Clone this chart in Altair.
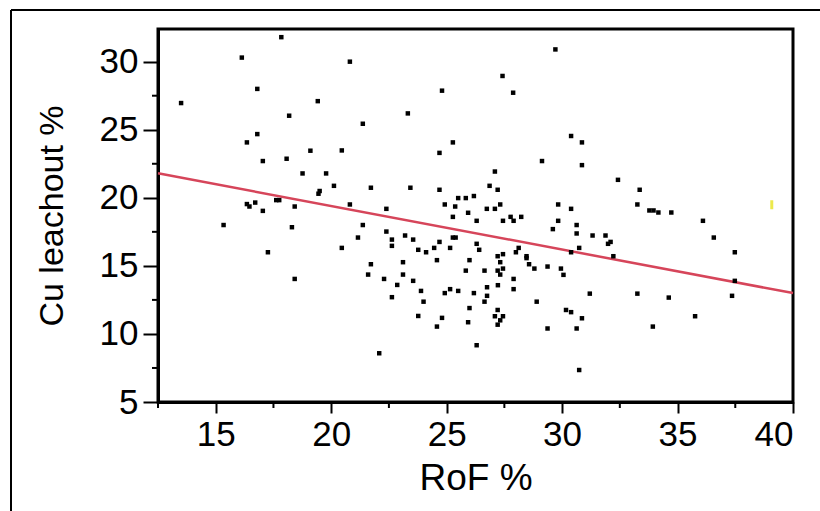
import altair as alt
import pandas as pd

# RoF % (x) and Cu leachout % (y)
rof = [17.84, 16.13, 13.5, 16.8, 19.42, 18.18, 16.8, 16.35, 17.04, 18.07,
       19.1, 18.76, 19.45, 19.5, 16.35, 16.46, 16.71, 17.04, 17.62, 17.75,
       18.42, 15.34, 18.3, 17.26, 18.42, 20.81, 24.8, 23.32, 21.37, 20.46,
       24.69, 25.27, 19.78, 20.12, 21.72, 23.43, 24.69, 20.81, 22.39, 24.92,
       25.37, 25.5, 25.83, 25.27, 25.93, 21.37, 21.16, 20.46, 22.39, 22.63,
       22.63, 23.2, 23.55, 23.77, 24.11, 24.46, 24.69, 25.15, 25.27, 25.39,
       24.58, 25.99, 25.83, 23.11, 21.72, 21.6, 23.11, 22.29, 22.86, 23.55,
       23.89, 22.63, 24.0, 24.92, 25.15, 25.5, 25.99, 25.93, 23.77, 24.8,
       24.58, 22.08, 29.71, 27.42, 27.88, 30.39, 30.86, 29.13, 30.86, 32.42,
       27.09, 26.86, 27.21, 26.18, 26.74, 27.09, 27.32, 29.83, 30.39, 27.77,
       28.23, 27.44, 27.9, 26.3, 29.83, 29.6, 30.63, 30.63, 31.32, 31.88,
       31.99, 32.1, 32.22, 26.3, 26.41, 26.64, 27.21, 27.44, 27.32, 27.21,
       27.44, 27.32, 28.0, 28.12, 28.46, 28.46, 28.57, 28.8, 29.37, 29.95,
       30.06, 30.39, 30.74, 27.9, 27.9, 27.22, 26.75, 26.18, 26.75, 26.64,
       26.3, 27.21, 27.09, 27.44, 27.32, 27.21, 28.9, 29.37, 30.17, 30.39,
       30.86, 30.63, 31.2, 30.74, 33.36, 33.26, 33.78, 33.96, 34.17, 34.73,
       36.1, 36.57, 37.48, 37.48, 37.36, 33.26, 34.62, 35.76, 33.93]
cu = [31.8, 30.3, 26.96, 28.0, 27.1, 26.03, 24.68, 24.07, 22.7, 22.87,
      23.46, 21.79, 20.3, 20.5, 19.54, 19.36, 19.65, 19.04, 19.83, 19.83,
      19.36, 18.0, 17.84, 16.0, 14.04, 30.0, 27.87, 26.2, 25.44, 23.48,
      23.3, 24.07, 21.79, 20.88, 20.74, 20.74, 20.59, 19.51, 19.19, 19.51,
      19.36, 19.98, 19.98, 18.6, 18.9, 18.0, 17.08, 16.32, 17.52, 16.93,
      16.47, 17.23, 16.93, 16.18, 16.0, 16.32, 16.76, 16.32, 17.08, 17.08,
      15.42, 15.42, 14.65, 15.27, 15.12, 14.36, 14.36, 14.04, 13.6, 13.9,
      13.16, 12.7, 12.37, 13.0, 13.29, 13.16, 11.9, 10.86, 11.32, 11.18,
      10.54, 8.58, 30.9, 28.95, 27.72, 24.54, 24.07, 22.7, 22.4, 21.32,
      21.93, 20.88, 20.59, 20.13, 19.19, 19.19, 19.51, 19.51, 19.19, 18.6,
      18.6, 18.31, 18.31, 18.31, 18.31, 17.7, 18.0, 17.38, 17.23, 17.23,
      16.62, 16.76, 15.71, 16.62, 16.18, 14.65, 15.71, 15.86, 15.27, 14.65,
      14.8, 14.36, 16.0, 16.32, 15.71, 15.57, 15.12, 14.8, 14.95, 14.8,
      14.34, 16.0, 16.32, 14.04, 13.29, 13.58, 13.43, 13.0, 12.8, 12.37,
      9.17, 11.76, 11.3, 11.3, 11.0, 10.68, 12.37, 10.4, 11.76, 11.6,
      11.15, 10.4, 12.96, 7.35, 20.59, 19.51, 19.07, 19.07, 18.92, 18.92,
      18.31, 17.08, 16.0, 13.9, 12.8, 12.96, 12.67, 11.3, 10.54]

# fitted line end points
fit_x = [12.5, 40.0]
fit_y = [21.8, 13.0]

# single yellow marker near the right edge
marker_x = [39.08]
marker_y = [19.49]

x_major = [15, 20, 25, 30, 35, 40]
x_minor = [12.5, 17.5, 22.5, 27.5, 32.5, 37.5]
y_major = [5, 10, 15, 20, 25, 30]
y_minor = [7.5, 12.5, 17.5, 22.5, 27.5]

X_DOMAIN = [12.5, 40]
Y_DOMAIN = [5, 32.4]

FONT = "Liberation Sans"

pts = pd.DataFrame({"RoF": rof, "Cu": cu})
fit = pd.DataFrame({"RoF": fit_x, "Cu": fit_y})
mk = pd.DataFrame({"RoF": marker_x, "Cu": marker_y})
xm = pd.DataFrame({"v": x_minor})
ym = pd.DataFrame({"v": y_minor})

xs = alt.Scale(domain=X_DOMAIN, nice=False, zero=False)
ys = alt.Scale(domain=Y_DOMAIN, nice=False, zero=False)

x_axis = alt.Axis(values=x_major, title="RoF %", tickSize=11, labelPadding=4,
                  titlePadding=8, titleFontSize=37)
y_axis = alt.Axis(values=y_major, title="Cu leachout %", tickSize=15, labelPadding=5,
                  titlePadding=30, titleFontSize=34)

points = alt.Chart(pts).mark_square(size=20, color="black", opacity=1).encode(
    x=alt.X("RoF:Q", scale=xs, axis=x_axis),
    y=alt.Y("Cu:Q", scale=ys, axis=y_axis),
)

line = alt.Chart(fit).mark_line(color="#d6455a", strokeWidth=2.5).encode(
    x=alt.X("RoF:Q", scale=xs),
    y=alt.Y("Cu:Q", scale=ys),
)

marker = alt.Chart(mk).mark_tick(orient="vertical", color="#e4e000", size=9, thickness=3).encode(
    x=alt.X("RoF:Q", scale=xs),
    y=alt.Y("Cu:Q", scale=ys),
)

x_minor_ticks = alt.Chart(xm).mark_rule(color="black", strokeWidth=2).encode(
    x=alt.X("v:Q", scale=xs),
    y=alt.value(373),
    y2=alt.value(379),
)

y_minor_ticks = alt.Chart(ym).mark_rule(color="black", strokeWidth=2).encode(
    y=alt.Y("v:Q", scale=ys),
    x=alt.value(0),
    x2=alt.value(-6),
)

frame_left = alt.Chart(pts).mark_rule(color="black", strokeWidth=2).encode(
    x=alt.value(-147), y=alt.value(-19), y2=alt.value(490)
)
frame_top = alt.Chart(pts).mark_rule(color="black", strokeWidth=2).encode(
    x=alt.value(-147), x2=alt.value(670), y=alt.value(-19)
)

chart = alt.layer(
    x_minor_ticks, y_minor_ticks, line, points, marker, frame_left, frame_top
).properties(
    width=635,
    height=373,
    background="white",
    autosize=alt.AutoSizeParams(type="none"),
    padding={"left": 158, "top": 29, "right": 27, "bottom": 109},
).configure_view(
    stroke="black", strokeWidth=3
).configure_axis(
    grid=False,
    domainColor="black",
    domainWidth=3,
    tickColor="black",
    tickWidth=2,
    labelFont=FONT,
    labelFontSize=35,
    labelColor="black",
    titleFont=FONT,
    titleColor="black",
    titleFontWeight="normal",
)

chart.save("out.html", embed_options={"renderer": "svg", "actions": False})
